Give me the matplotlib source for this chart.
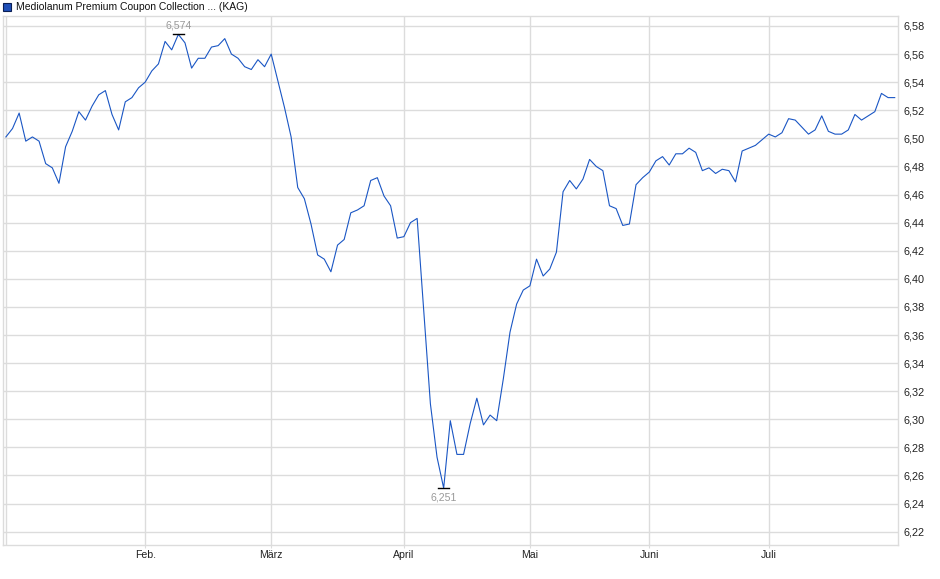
import matplotlib
matplotlib.use("Agg")
import matplotlib.pyplot as plt
from matplotlib.patches import Rectangle

plt.rcParams['font.family'] = ['Liberation Sans', 'DejaVu Sans']

title = "Mediolanum Premium Coupon Collection ... (KAG)"

prices = [
    6.501, 6.507, 6.518, 6.498, 6.501, 6.498, 6.482, 6.479, 6.468, 6.494,
    6.505, 6.519, 6.513, 6.523, 6.531, 6.534, 6.517, 6.506, 6.526, 6.529,
    6.536, 6.540, 6.548, 6.553, 6.569, 6.563, 6.574, 6.568, 6.550, 6.557,
    6.557, 6.565, 6.566, 6.571, 6.560, 6.557, 6.551, 6.549, 6.556, 6.551,
    6.560, 6.541, 6.522, 6.501, 6.465, 6.457, 6.439, 6.417, 6.414, 6.405,
    6.424, 6.428, 6.447, 6.449, 6.452, 6.470, 6.472, 6.459, 6.452, 6.429,
    6.430, 6.440, 6.443, 6.377, 6.311, 6.273, 6.251, 6.299, 6.275, 6.275,
    6.297, 6.315, 6.296, 6.303, 6.299, 6.329, 6.362, 6.382, 6.392, 6.395,
    6.414, 6.402, 6.407, 6.419, 6.462, 6.470, 6.464, 6.471, 6.485, 6.480,
    6.477, 6.452, 6.450, 6.438, 6.439, 6.467, 6.472, 6.476, 6.484, 6.487,
    6.481, 6.489, 6.489, 6.493, 6.490, 6.477, 6.479, 6.475, 6.478, 6.477,
    6.469, 6.491, 6.493, 6.495, 6.499, 6.503, 6.501, 6.504, 6.514, 6.513,
    6.508, 6.503, 6.506, 6.516, 6.505, 6.503, 6.503, 6.506, 6.517, 6.513,
    6.516, 6.519, 6.532, 6.529, 6.529,
]

month_labels = ["Feb.", "März", "April", "Mai", "Juni", "Juli"]
month_index = [21, 40, 60, 79, 97, 115]

y_ticks = [6.22, 6.24, 6.26, 6.28, 6.30, 6.32, 6.34, 6.36, 6.38, 6.40,
           6.42, 6.44, 6.46, 6.48, 6.50, 6.52, 6.54, 6.56, 6.58]

W, H = 940, 579
fig = plt.figure(figsize=(W / 100, H / 100), dpi=100)
ax = fig.add_axes([2.7 / W, (H - 545) / H, (898.3 - 2.7) / W, (545 - 16) / H])

grid_c = '#dcdcdc'
x = list(range(len(prices)))
ax.plot(x, prices, color='#1a56c4', lw=0.8, zorder=3)

ax.set_xlim(-0.48, 134.54)
ax.set_ylim(6.2105, 6.5871)

ax.set_yticks(y_ticks)
ax.set_yticklabels([f"{v:.2f}".replace('.', ',') for v in y_ticks])
ax.yaxis.tick_right()
ax.tick_params(axis='y', length=0, pad=4, labelsize=7.8, labelcolor='#222222')

ax.set_xticks(month_index)
ax.set_xticklabels(month_labels)
ax.tick_params(axis='x', length=2, color=grid_c, pad=1.5, labelsize=7.6, labelcolor='#222222')

ax.grid(True, color=grid_c, lw=1.0, zorder=0)
ax.axvline(0, color=grid_c, lw=1.0, zorder=0)
for s in ax.spines.values():
    s.set_color(grid_c)
    s.set_linewidth(1.0)

# min / max annotations
imax = max(range(len(prices)), key=lambda i: prices[i])
imin = min(range(len(prices)), key=lambda i: prices[i])
for i, va, off in [(imax, 'bottom', 3), (imin, 'top', -3)]:
    v = prices[i]
    ax.plot([i - 0.85, i + 0.85], [v, v], color='black', lw=1.0, zorder=4)
    ax.annotate(f"{v:.3f}".replace('.', ','), (i, v), xytext=(0, off),
                textcoords='offset points', ha='center', va=va,
                fontsize=7.6, color='#999999', zorder=5)

# legend / title
fig.patches.append(Rectangle((3 / W, (H - 10.5) / H), 8 / W, 8 / H,
                             transform=fig.transFigure, facecolor='#1f4fb8',
                             edgecolor='#0b1f55', lw=0.8))
fig.text(16 / W, (H - 6.5) / H, title, ha='left', va='center',
         fontsize=7.45, color='#111111')

fig.savefig('out.png', dpi=100)
